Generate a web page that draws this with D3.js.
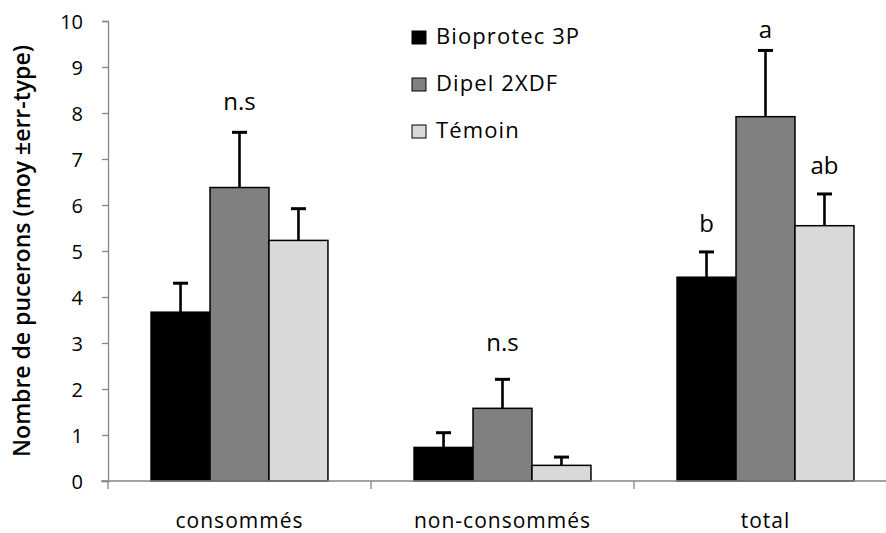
<!DOCTYPE html>
<html>
<head>
<meta charset="utf-8">
<script src="https://cdn.jsdelivr.net/npm/d3@7"></script>
<style>
  body { margin: 0; background: #fff; }
  svg { display: block; }
  text { font-family: "Open Sans", "Lato", sans-serif; fill: #000; }
</style>
</head>
<body>
<svg id="chart" width="886" height="533"></svg>
<script>
// Aphid counts per product (mean ± standard error)
const categories = ["consommés", "non-consommés", "total"];
const seriesNames = ["Bioprotec 3P", "Dipel 2XDF", "Témoin"];
const seriesColors = ["#000000", "#808080", "#d9d9d9"];
const bioprotec = [3.67, 0.73, 4.43];
const dipel = [6.38, 1.58, 7.92];
const temoin = [5.23, 0.34, 5.55];
const bioprotecErr = [0.63, 0.32, 0.55];
const dipelErr = [1.20, 0.63, 1.44];
const temoinErr = [0.69, 0.18, 0.69];
const yTicks = [0, 1, 2, 3, 4, 5, 6, 7, 8, 9, 10];
// significance letters: [category, series index, text, height on the value axis]
const letters = [
  ["consommés", 1, "n.s", 8.07],
  ["non-consommés", 1, "n.s", 2.83],
  ["total", 0, "b", 5.42],
  ["total", 1, "a", 9.63],
  ["total", 2, "ab", 6.67]
];

const values = [bioprotec, dipel, temoin];
const errors = [bioprotecErr, dipelErr, temoinErr];

const svg = d3.select("#chart");
const plotLeft = 108, plotTop = 21, plotBottom = 481;
const bandW = 263;

const x = d3.scaleBand().domain(categories).range([plotLeft, plotLeft + bandW * 3]).padding(0);
const xs = d3.scaleBand().domain(d3.range(3)).range([0, bandW]).paddingOuter(0.73).paddingInner(0);
const y = d3.scaleLinear().domain([0, 10]).range([plotBottom, plotTop]);

// y axis
const yAxis = svg.append("g").attr("transform", `translate(${plotLeft},0)`)
  .call(d3.axisLeft(y).tickValues(yTicks).tickSize(6).tickPadding(19).tickFormat(d3.format("d")));
yAxis.select(".domain").attr("stroke", "#868686").attr("stroke-width", 1.3);
yAxis.selectAll(".tick line").attr("stroke", "#868686").attr("stroke-width", 1.3);
yAxis.selectAll(".tick text").style("font-size", "20px").attr("fill", "#000").attr("dy", "0.36em");

// y axis title
svg.append("text")
  .attr("transform", `translate(30,251) rotate(-90)`)
  .attr("text-anchor", "middle")
  .style("font-size", "23px").style("font-weight", "600")
  .text("Nombre de pucerons (moy ±err-type)");

// bars with upper error bars
const groups = svg.append("g").selectAll("g").data(categories).join("g")
  .attr("transform", d => `translate(${x(d)},0)`);

groups.each(function(cat, ci) {
  const g = d3.select(this);
  for (let si = 0; si < 3; si++) {
    const v = values[si][ci], e = errors[si][ci];
    const bx = xs(si), bw = xs.bandwidth();
    const cx = bx + bw / 2;
    g.append("line").attr("x1", cx).attr("x2", cx)
      .attr("y1", y(v)).attr("y2", y(v + e))
      .attr("stroke", "#000").attr("stroke-width", 2.6);
    g.append("line").attr("x1", cx - 7.5).attr("x2", cx + 7.5)
      .attr("y1", y(v + e)).attr("y2", y(v + e))
      .attr("stroke", "#000").attr("stroke-width", 3);
    g.append("rect").attr("x", bx).attr("width", bw)
      .attr("y", y(v)).attr("height", y(0) - y(v))
      .attr("fill", seriesColors[si]).attr("stroke", "#000").attr("stroke-width", 1.5);
  }
});

// x axis
const xAxis = svg.append("g").attr("transform", `translate(0,${plotBottom})`);
xAxis.append("line").attr("x1", plotLeft - 7).attr("x2", 886).attr("stroke", "#868686").attr("stroke-width", 1.3);
xAxis.selectAll(".sep").data([plotLeft, plotLeft + bandW, plotLeft + 2 * bandW]).join("line")
  .attr("x1", d => d).attr("x2", d => d).attr("y1", 0).attr("y2", 8)
  .attr("stroke", "#868686").attr("stroke-width", 1.3);
xAxis.selectAll(".lab").data(categories).join("text")
  .attr("x", d => x(d) + bandW / 2).attr("y", 47)
  .attr("text-anchor", "middle").style("font-size", "21px").style("letter-spacing", "1px")
  .text(d => d);

// significance letters
svg.selectAll(".letter").data(letters).join("text")
  .attr("x", d => x(d[0]) + xs(d[1]) + xs.bandwidth() / 2)
  .attr("y", d => y(d[3]))
  .attr("text-anchor", "middle").style("font-size", "24px")
  .text(d => d[2]);

// legend
const legend = svg.append("g").attr("transform", "translate(412,0)");
seriesNames.forEach((name, i) => {
  const row = legend.append("g").attr("transform", `translate(0,${44 + i * 47})`);
  row.append("rect").attr("x", 0).attr("y", -13).attr("width", 14).attr("height", 13)
    .attr("fill", seriesColors[i]).attr("stroke", "#000").attr("stroke-width", 1);
  row.append("text").attr("x", 24).attr("y", 0)
    .style("font-size", "22px").style("letter-spacing", "1.1px").text(name);
});
</script>
</body>
</html>
